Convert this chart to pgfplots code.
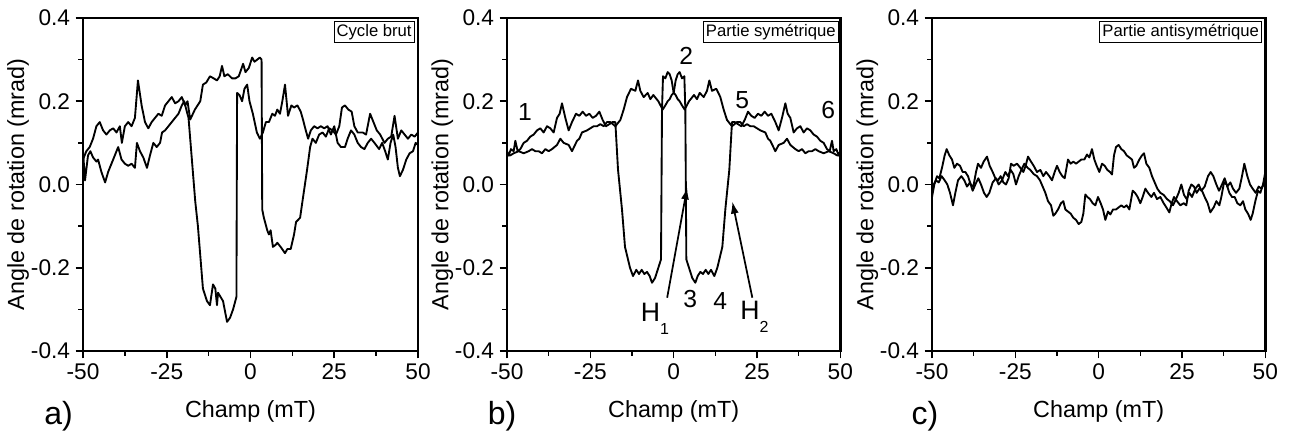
\documentclass[border=0pt]{standalone}
\usepackage{fontspec}
\setmainfont{Liberation Sans}
\usepackage{pgfplots}
\usepackage{pgfplotstable}
\pgfplotsset{compat=1.18}
\usetikzlibrary{arrows.meta}

% panel a: raw cycle, two branches
\pgfplotstableread{
x y
-50 0.06
-49 0.08
-48 0.09
-47 0.11
-46 0.14
-45 0.15
-44 0.13
-43 0.12
-42 0.13
-41 0.135
-40 0.125
-39 0.14
-38.4 0.10
-37.5 0.14
-36.5 0.15
-35.5 0.14
-34.5 0.16
-33.6 0.25
-32.5 0.19
-31.5 0.15
-30.5 0.135
-29.5 0.15
-28.5 0.16
-27.5 0.17
-26.5 0.165
-25.5 0.19
-24.5 0.2
-23.5 0.21
-22.5 0.195
-21.5 0.2
-20.5 0.21
-19.5 0.19
-18.8 0.2
-18 0.156
-16.6 0.18
-15 0.2
-14.2 0.24
-13.2 0.245
-12.1 0.26
-11 0.255
-10 0.25
-9.2 0.26
-8.5 0.285
-7.8 0.26
-6.8 0.265
-5.5 0.255
-4.5 0.255
-3.5 0.26
-2.2 0.29
-1.5 0.27
-0.5 0.28
0.5 0.305
1.2 0.295
2 0.3
2.8 0.305
3.3 0.3
3.5 -0.06
4 -0.08
5 -0.11
5.5 -0.12
6 -0.11
6.7 -0.15
7.5 -0.145
8 -0.14
9 -0.15
10.3 -0.165
11 -0.155
12 -0.155
13 -0.12
13.6 -0.09
14.8 -0.08
15.7 -0.03
16.9 0.036
17.8 0.09
18.5 0.11
19.5 0.1
20.5 0.12
21.5 0.125
22.5 0.115
23.5 0.135
24.5 0.13
25.5 0.12
26.5 0.14
27.3 0.185
28.2 0.19
29.2 0.18
30.2 0.175
31 0.14
32 0.125
33.5 0.125
34.5 0.12
35.7 0.17
36.7 0.15
37.7 0.13
38.7 0.12
40 0.1
41 0.11
42 0.115
43 0.165
44 0.11
45 0.13
46 0.12
47 0.11
48 0.12
49 0.115
50 0.125
}\brutP
\pgfplotstableread{
x y
-50 0.08
-49.4 0.01
-48.5 0.07
-47.8 0.08
-47 0.065
-46 0.055
-45.5 0.06
-44.5 0.03
-43.4 0.005
-42.5 0.03
-41.5 0.05
-40.5 0.07
-39.5 0.09
-38.5 0.06
-37.5 0.05
-36.5 0.045
-35.5 0.05
-34.5 0.04
-33.9 0.1
-33 0.08
-32 0.065
-30.9 0.04
-30 0.07
-29 0.1
-28 0.09
-27 0.1
-26.4 0.125
-25.5 0.13
-24.5 0.14
-23.5 0.15
-22.5 0.16
-21.5 0.17
-20.5 0.19
-19.8 0.2
-19 0.175
-18.5 0.16
-17.5 0.06
-16.5 -0.04
-15.7 -0.10
-14.2 -0.25
-13 -0.28
-12.1 -0.29
-11.2 -0.24
-10.5 -0.25
-10 -0.29
-9.7 -0.26
-8.2 -0.28
-7 -0.33
-6.1 -0.32
-5.2 -0.30
-4.2 -0.27
-4.0 0.22
-3.3 0.215
-2.5 0.2
-1.8 0.23
-1 0.24
-0.3 0.2
0.7 0.17
1.9 0.125
2.8 0.11
3.7 0.125
4.6 0.15
5.5 0.15
6.5 0.17
7.3 0.165
8 0.18
8.8 0.17
9.5 0.2
10.3 0.24
11.2 0.165
12.2 0.19
13 0.185
14 0.19
15 0.175
15.7 0.155
16.5 0.13
17.2 0.11
18 0.13
19 0.14
20 0.135
21 0.14
22 0.135
23 0.14
24 0.12
25 0.14
26 0.1
27 0.09
28.2 0.09
29 0.11
30 0.13
31 0.12
32 0.1
33 0.09
34 0.085
35 0.1
36 0.11
37 0.1
38.4 0.085
39.3 0.1
40.2 0.08
41 0.06
41.8 0.1
42.6 0.12
43.3 0.09
44 0.04
44.6 0.02
45.5 0.035
46.5 0.06
47.5 0.075
48.5 0.08
49.3 0.1
50 0.095
}\brutN

% panel b: symmetric part, one branch (the other is its mirror image)
\pgfplotstableread{
x y
-50 0.08
-49.5 0.07
-48.8 0.085
-48 0.08
-47.5 0.105
-46.8 0.08
-46 0.085
-45 0.1
-44 0.105
-43 0.115
-42 0.12
-41 0.13
-40 0.135
-39 0.125
-38 0.14
-37 0.135
-36 0.125
-35 0.16
-34.2 0.17
-33.5 0.195
-32.5 0.16
-31.5 0.13
-30.5 0.15
-29.3 0.17
-28.3 0.165
-27.3 0.175
-26.3 0.165
-25.3 0.17
-24.3 0.16
-23.3 0.165
-22.3 0.175
-21.3 0.155
-20.3 0.14
-19.3 0.145
-18.3 0.15
-17.5 0.15
-16.7 0.036
-15.5 -0.06
-14.6 -0.15
-13.1 -0.2
-12.2 -0.22
-11.2 -0.205
-10.4 -0.215
-9.6 -0.205
-8.8 -0.215
-8 -0.21
-7.2 -0.22
-6.5 -0.236
-5.6 -0.225
-4.6 -0.2
-3.8 -0.18
-3.5 0.18
-3.2 0.26
-2.5 0.255
-1.8 0.27
-1.2 0.265
-0.6 0.25
0 0.22
0.6 0.215
1.2 0.205
1.8 0.2
2.5 0.19
3.3 0.18
4.6 0.2
6.1 0.215
7 0.205
7.8 0.22
9 0.21
10 0.225
10.7 0.25
11.5 0.225
12.8 0.23
14 0.21
15 0.18
16 0.155
17.5 0.14
19 0.15
20 0.15
21 0.14
22 0.145
23 0.14
24 0.14
25 0.135
26 0.13
27.5 0.125
28.3 0.11
29 0.105
30.5 0.08
31.5 0.095
33 0.1
34 0.11
35 0.095
36.5 0.085
37.5 0.08
38.5 0.085
39.5 0.075
40.5 0.08
41.5 0.08
42.5 0.085
43.5 0.08
45 0.075
46.5 0.08
48 0.075
49 0.07
50 0.07
}\symL

% panel c: antisymmetric part, one branch (the other is its point image)
\pgfplotstableread{
x y
-50 -0.03
-49.3 0.0
-48.5 0.02
-47.8 0.015
-47 0.04
-46.2 0.07
-45.6 0.085
-44.8 0.07
-44 0.06
-43.3 0.04
-42.5 0.05
-41.6 0.045
-40.8 0.03
-40 0.03
-39.2 0.02
-38.4 0.0
-37.6 -0.005
-36.8 0.03
-36.2 0.05
-35.3 0.04
-34.5 0.055
-33.5 0.067
-32.7 0.045
-31.8 0.03
-31 0.015
-30.2 0.01
-29.4 0.02
-28.6 0.005
-27.8 0.0
-27 0.015
-26.3 0.05
-25.5 0.045
-24.5 0.05
-23.5 0.04
-22.6 0.03
-21.9 0.045
-21.2 0.067
-20.3 0.055
-19.5 0.045
-18.5 0.03
-17.5 0.035
-16.6 0.02
-15.8 0.03
-14.8 0.02
-14 0.01
-13.2 0.03
-12.5 0.045
-11.7 0.03
-10.9 0.02
-10.2 0.015
-9.2 0.06
-8.4 0.05
-7.6 0.055
-6.8 0.05
-6 0.055
-5.2 0.06
-4.3 0.06
-3.5 0.072
-2.8 0.065
-2 0.085
-1.3 0.06
-0.6 0.045
0.2 0.03
1 0.05
1.8 0.045
2.6 0.035
3.4 0.03
4 0.024
4.6 0.07
5.2 0.09
6 0.095
6.8 0.085
7.6 0.08
8.4 0.07
9.2 0.065
10 0.06
10.6 0.04
11.3 0.045
12.2 0.06
13 0.07
13.6 0.075
14.3 0.05
15.2 0.04
16 0.02
16.8 0.005
17.6 -0.01
18.5 -0.02
19.5 -0.025
20.5 -0.035
21.3 -0.04
22.3 -0.05
23.2 -0.035
24 -0.02
24.8 0.0
25.6 -0.025
26.4 -0.035
27.2 -0.02
28 -0.03
29 -0.01
30 0.0
30.8 -0.015
31.8 -0.005
32.8 0.02
33.6 0.03
34.4 0.02
35.3 0.0
36.1 -0.015
37 0.0
37.8 0.015
38.6 -0.005
39.5 0.005
40.3 -0.01
41.2 -0.02
42.2 -0.01
43 0.02
43.7 0.05
44.6 0.02
45.4 0.0
46.2 -0.01
47.1 -0.02
48 -0.005
48.8 -0.01
49.5 0.0
50 0.02
}\antiU

\pgfplotsset{
  panel/.style={
    scale only axis, anchor=south west,
    width=250pt, height=249.75pt,
    xmin=-50, xmax=50, ymin=-0.4, ymax=0.4,
    xtick={-50,-25,0,25,50}, ytick={-0.4,-0.2,0,0.2,0.4},
    minor x tick num=1, minor y tick num=1,
    tick align=outside, xtick pos=bottom, ytick pos=left,
    major tick length=5.5pt, minor tick length=3.5pt,
    every tick/.style={black, line width=1.2pt},
    line width=1.8pt,
    /pgf/number format/assume math mode=true,
    yticklabel style={/pgf/number format/.cd, fixed, fixed zerofill, precision=1},
    tick label style={font=\fontsize{17}{17}\selectfont},
    xlabel={Champ (mT)}, ylabel={Angle de rotation (mrad)},
    label style={font=\fontsize{17.5}{18}\selectfont},
    xlabel style={at={(axis description cs:0.5,-0.183)}, anchor=center},
    ylabel style={at={(axis description cs:-0.194,0.5)}, anchor=center},
    cycle list={{black, mark=none}},
    every axis plot/.append style={line width=1.4pt, line join=round},
  },
}
\tikzset{
  tag/.style={draw=black, line width=0.5pt, fill=white, inner sep=2pt,
    anchor=north east, font=\fontsize{12.5}{13}\selectfont},
  num/.style={font=\fontsize{18.5}{18.5}\selectfont},
  letter/.style={font=\fontsize{24}{24}\selectfont},
}

\begin{document}
\begin{tikzpicture}
\path[use as bounding box] (0,0) rectangle (967.5pt,328.5pt);

\begin{axis}[panel, at={(62.25pt,65.25pt)}, width=251.25pt]
\addplot table[x=x, y=y] {\brutP};
\addplot table[x=x, y=y] {\brutN};
\node[tag] at (rel axis cs:0.99,0.99) {Cycle brut};
\end{axis}

\begin{axis}[panel, at={(380.25pt,65.25pt)}]
\addplot table[x=x, y=y] {\symL};
\addplot table[x expr=-\thisrow{x}, y=y] {\symL};
\node[tag] at (rel axis cs:0.995,0.99) {Partie symétrique};
\node[num] at (axis cs:-44.6,0.173) {1};
\node[num] at (axis cs:3.75,0.308) {2};
\node[num] at (axis cs:5,-0.276) {3};
\node[num] at (axis cs:14,-0.281) {4};
\node[num] at (axis cs:20.6,0.202) {5};
\node[num] at (axis cs:46.4,0.178) {6};
\node[font=\fontsize{20}{20}\selectfont, inner sep=0pt] at (axis cs:-5.6,-0.322)
  {H\raisebox{-0.5em}{\fontsize{12}{12}\selectfont 1}};
\node[font=\fontsize{20}{20}\selectfont, inner sep=0pt] at (axis cs:24.2,-0.318)
  {H\raisebox{-0.5em}{\fontsize{12}{12}\selectfont 2}};
\draw[line width=1.3pt, -{Latex[length=9pt,width=6pt]}] (axis cs:-1.95,-0.272) -- (axis cs:4.05,-0.007);
\draw[line width=1.3pt, -{Latex[length=9pt,width=6pt]}] (axis cs:23.6,-0.272) -- (axis cs:17.6,-0.041);
\end{axis}

\begin{axis}[panel, at={(699pt,65.25pt)}]
\addplot table[x=x, y=y] {\antiU};
\addplot table[x expr=-\thisrow{x}, y expr=-\thisrow{y}] {\antiU};
\node[tag] at (rel axis cs:0.99,0.99) {Partie antisymétrique};
\end{axis}

\node[letter] at (44pt,16.5pt) {a)};
\node[letter] at (376.5pt,16.5pt) {b)};
\node[letter] at (693.75pt,16.5pt) {c)};
\end{tikzpicture}
\end{document}
